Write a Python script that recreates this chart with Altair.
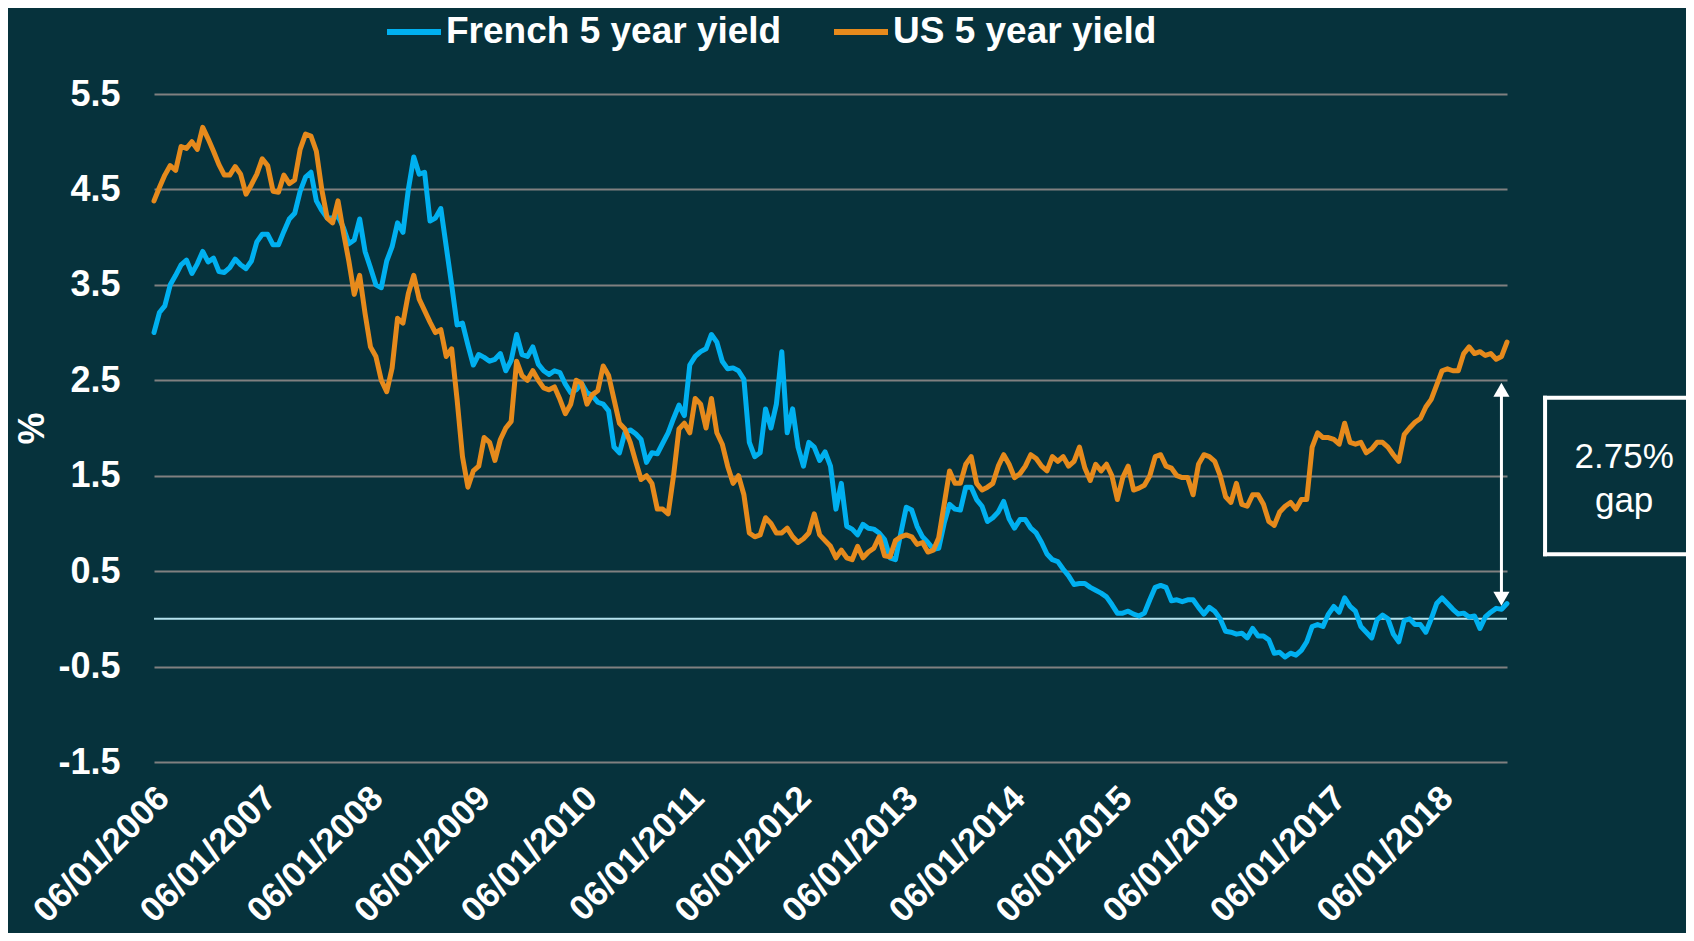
import altair as alt
import pandas as pd

# ---------------- data ----------------
start_date = "2006-01-06"
end_date = "2018-08-31"

french_5y = [
    3.00, 3.21, 3.28, 3.50, 3.60, 3.71, 3.76, 3.62, 3.72, 3.85,
    3.74, 3.78, 3.64, 3.63, 3.68, 3.77, 3.71, 3.67, 3.75, 3.95,
    4.03, 4.03, 3.92, 3.92, 4.06, 4.19, 4.25, 4.48, 4.63, 4.68,
    4.38, 4.28, 4.20, 4.20, 4.22, 4.10, 3.93, 3.97, 4.19, 3.85,
    3.68, 3.50, 3.47, 3.75, 3.90, 4.15, 4.05, 4.50, 4.84, 4.66,
    4.68, 4.17, 4.20, 4.30, 3.90, 3.50, 3.08, 3.10, 2.87, 2.66,
    2.77, 2.74, 2.70, 2.72, 2.78, 2.60, 2.71, 2.98, 2.77, 2.75,
    2.85, 2.67, 2.60, 2.56, 2.60, 2.58, 2.46, 2.37, 2.40, 2.47,
    2.37, 2.34, 2.27, 2.25, 2.18, 1.80, 1.74, 1.95, 1.98, 1.94,
    1.88, 1.64, 1.74, 1.73, 1.84, 1.95, 2.10, 2.24, 2.13, 2.66,
    2.75, 2.80, 2.83, 2.98, 2.90, 2.70, 2.62, 2.63, 2.60, 2.51,
    1.85, 1.70, 1.74, 2.20, 2.00, 2.25, 2.80, 1.95, 2.20, 1.80,
    1.60, 1.85, 1.80, 1.66, 1.75, 1.60, 1.15, 1.42, 0.97, 0.94,
    0.88, 0.99, 0.95, 0.94, 0.90, 0.83, 0.64, 0.62, 0.90, 1.17,
    1.14, 0.97, 0.86, 0.80, 0.73, 0.74, 1.00, 1.20, 1.15, 1.14,
    1.38, 1.38, 1.25, 1.18, 1.02, 1.06, 1.12, 1.23, 1.05, 0.95,
    1.04, 1.04, 0.95, 0.90, 0.80, 0.68, 0.62, 0.60, 0.52, 0.45,
    0.36, 0.37, 0.37, 0.33, 0.30, 0.27, 0.23, 0.15, 0.06, 0.06,
    0.08, 0.05, 0.03, 0.06, 0.20, 0.33, 0.35, 0.33, 0.19, 0.20,
    0.18, 0.20, 0.20, 0.12, 0.05, 0.12, 0.08, 0.00, -0.13, -0.14,
    -0.16, -0.15, -0.20, -0.10, -0.18, -0.18, -0.22, -0.36, -0.35, -0.40,
    -0.36, -0.38, -0.33, -0.24, -0.08, -0.06, -0.08, 0.05, 0.13, 0.07,
    0.22, 0.13, 0.08, -0.08, -0.14, -0.20, -0.01, 0.04, 0.00, -0.16,
    -0.24, -0.02, 0.00, -0.06, -0.06, -0.14, 0.00, 0.16, 0.22, 0.16,
    0.10, 0.05, 0.06, 0.02, 0.03, -0.10, 0.02, 0.07, 0.11, 0.10,
    0.16,
]

us_5y = [
    4.38, 4.52, 4.65, 4.75, 4.70, 4.95, 4.93, 5.00, 4.92, 5.15,
    5.03, 4.90, 4.76, 4.65, 4.65, 4.74, 4.66, 4.45, 4.55, 4.66,
    4.82, 4.75, 4.48, 4.47, 4.65, 4.56, 4.60, 4.92, 5.08, 5.06,
    4.90, 4.50, 4.20, 4.15, 4.38, 4.05, 3.75, 3.40, 3.60, 3.20,
    2.85, 2.75, 2.50, 2.38, 2.63, 3.15, 3.10, 3.41, 3.60, 3.35,
    3.23, 3.11, 3.00, 3.03, 2.75, 2.83, 2.30, 1.70, 1.38, 1.55,
    1.60, 1.90, 1.85, 1.66, 1.88, 2.00, 2.07, 2.70, 2.55, 2.50,
    2.60, 2.50, 2.42, 2.40, 2.43, 2.30, 2.15, 2.25, 2.50, 2.47,
    2.25, 2.35, 2.39, 2.65, 2.55, 2.30, 2.05, 1.99, 1.85, 1.65,
    1.46, 1.50, 1.42, 1.15, 1.15, 1.10, 1.50, 1.99, 2.05, 1.95,
    2.31, 2.25, 2.00, 2.31, 1.95, 1.83, 1.60, 1.42, 1.50, 1.30,
    0.90, 0.86, 0.88, 1.06, 1.00, 0.90, 0.90, 0.95, 0.86, 0.80,
    0.84, 0.90, 1.10, 0.88, 0.82, 0.76, 0.64, 0.72, 0.64, 0.62,
    0.76, 0.64, 0.70, 0.74, 0.86, 0.66, 0.65, 0.82, 0.86, 0.88,
    0.86, 0.78, 0.80, 0.70, 0.72, 0.85, 1.20, 1.55, 1.42, 1.42,
    1.62, 1.70, 1.42, 1.35, 1.38, 1.42, 1.60, 1.72, 1.62, 1.48,
    1.52, 1.60, 1.72, 1.68, 1.60, 1.55, 1.70, 1.65, 1.70, 1.60,
    1.65, 1.80, 1.58, 1.45, 1.62, 1.55, 1.62, 1.50, 1.25, 1.48,
    1.60, 1.35, 1.37, 1.40, 1.50, 1.70, 1.72, 1.60, 1.58, 1.50,
    1.48, 1.48, 1.30, 1.62, 1.72, 1.70, 1.65, 1.50, 1.28, 1.22,
    1.42, 1.20, 1.18, 1.30, 1.30, 1.20, 1.02, 0.98, 1.12, 1.18,
    1.22, 1.15, 1.25, 1.25, 1.80, 1.95, 1.90, 1.90, 1.88, 1.83,
    2.05, 1.85, 1.83, 1.85, 1.74, 1.78, 1.85, 1.85, 1.80, 1.72,
    1.65, 1.93, 2.00, 2.06, 2.10, 2.22, 2.30, 2.45, 2.60, 2.62,
    2.60, 2.60, 2.78, 2.85, 2.78, 2.80, 2.76, 2.78, 2.72, 2.75,
    2.90,
]

series_names = ["French 5 year yield", "US 5 year yield"]
series_colors = ["#00b0f0", "#e68a1c"]
y_ticks = [-1.5, -0.5, 0.5, 1.5, 2.5, 3.5, 4.5, 5.5]
x_tick_years = list(range(2006, 2019))

# annotation
gap_lines = ["2.75%", "gap"]
gap_line_y = [1.576, 1.121]
gap_text_date = "2019-10-05T00:00:00"
box_left_date = "2019-01-08T00:00:00"
box_right_date = "2020-06-15T00:00:00"
box_values = [0.678, 2.317]
arrow_date = "2018-08-12T00:00:00"
arrow_heads = [2.40, 0.21]
arrow_shaft = [2.40, 0.21]

# ---------------- tables ----------------
assert len(french_5y) == len(us_5y)
dates = pd.date_range(start_date, end_date, periods=len(french_5y))
date_str = [d.strftime("%Y-%m-%dT%H:%M:%S") for d in dates]
df = pd.DataFrame({
    "date": date_str * 2,
    "series": [series_names[0]] * len(french_5y) + [series_names[1]] * len(us_5y),
    "value": french_5y + us_5y,
})

zero_df = pd.DataFrame({"value": [0.0]})
shaft_df = pd.DataFrame({"date": [arrow_date], "value": [arrow_shaft[0]], "value2": [arrow_shaft[1]]})
head_up_df = pd.DataFrame({"date": [arrow_date], "value": [arrow_heads[0]]})
head_down_df = pd.DataFrame({"date": [arrow_date], "value": [arrow_heads[1]]})
box_h_df = pd.DataFrame({"date": [box_left_date] * 2, "date2": [box_right_date] * 2,
                         "value": box_values})
box_v_df = pd.DataFrame({"date": [box_left_date], "value": [box_values[0]], "value2": [box_values[1]]})
text_df = pd.DataFrame({"date": [gap_text_date] * 2, "value": gap_line_y, "label": gap_lines})

# ---------------- scales / axes ----------------
FONT = "Liberation Sans"
x_scale = alt.Scale(domain=[alt.DateTime(year=2006, month=1, date=6),
                            alt.DateTime(year=2018, month=8, date=31)], nice=False)
y_scale = alt.Scale(domain=[-1.5, 5.5], nice=False, zero=False)

x_axis = alt.Axis(
    values=[alt.DateTime(year=y, month=1, date=6) for y in x_tick_years],
    format="%d/%m/%Y", formatType="time", labelAngle=315, labelAlign="right",
    labelBaseline="top", labelPadding=18, labelOffset=-3, labelFontSize=35,
    grid=False, title=None, labelOverlap=False, labelFlush=False, labelLimit=1000,
)
y_axis = alt.Axis(
    values=y_ticks,
    labelExpr="datum.value < 0 ? '-' + format(-datum.value, '.1f') : format(datum.value, '.1f')",
    labelPadding=34, grid=True, title="%", titleAngle=270, titleX=-122, titleY=334,
    titleAlign="center", titleBaseline="middle", labelOverlap=False,
)


def X(field="date"):
    return alt.X(f"{field}:T", scale=x_scale, axis=x_axis)


def Y(field="value"):
    return alt.Y(f"{field}:Q", scale=y_scale, axis=y_axis)


zero = alt.Chart(zero_df).mark_rule(color="#b4e3ee", strokeWidth=2).encode(y=Y())

lines = alt.Chart(df).mark_line(strokeWidth=5, strokeJoin="round", strokeCap="round").encode(
    x=X(), y=Y(),
    color=alt.Color("series:N",
                    scale=alt.Scale(domain=series_names, range=series_colors),
                    legend=alt.Legend(title=None, orient="none", legendX=230, legendY=-92,
                                      direction="horizontal", symbolType="stroke",
                                      symbolSize=2916, symbolStrokeWidth=6,
                                      labelFont=FONT, labelFontSize=37, labelFontWeight="bold",
                                      labelColor="white", labelOffset=2, columnPadding=40,
                                      labelLimit=1000, padding=0)),
)

shaft = alt.Chart(shaft_df).mark_rule(color="white", strokeWidth=3).encode(
    x=X(), y=Y(), y2="value2:Q")
head_up = alt.Chart(head_up_df).mark_point(shape="triangle-up", filled=True, size=260,
                                            color="white", opacity=1).encode(x=X(), y=Y())
head_down = alt.Chart(head_down_df).mark_point(shape="triangle-down", filled=True, size=260,
                                                color="white", opacity=1).encode(x=X(), y=Y())
box_h = alt.Chart(box_h_df).mark_rule(color="white", strokeWidth=4, strokeCap="square").encode(
    x=X(), x2="date2:T", y=Y())
box_v = alt.Chart(box_v_df).mark_rule(color="white", strokeWidth=4, strokeCap="square").encode(
    x=X(), y=Y(), y2="value2:Q")
gap_text = alt.Chart(text_df).mark_text(font=FONT, fontSize=35, color="white",
                                        align="center", baseline="alphabetic").encode(
    x=X(), y=Y(), text="label:N")

chart = alt.layer(zero, lines, shaft, head_up, head_down, box_h, box_v, gap_text).properties(
    width=1353, height=668,
    padding={"left": 146, "top": 86, "right": 179, "bottom": 171},
    autosize=alt.AutoSizeParams(type="none"),
    background="#06323c",
).configure_view(strokeWidth=0).configure_axis(
    labelFont=FONT, labelFontSize=36, labelFontWeight="bold", labelColor="white",
    titleFont=FONT, titleFontSize=36, titleFontWeight="bold", titleColor="white",
    domain=False, ticks=False, tickSize=0, gridColor="#808080", gridWidth=2,
)

chart.save("out.html", embed_options={"renderer": "svg", "actions": False})
